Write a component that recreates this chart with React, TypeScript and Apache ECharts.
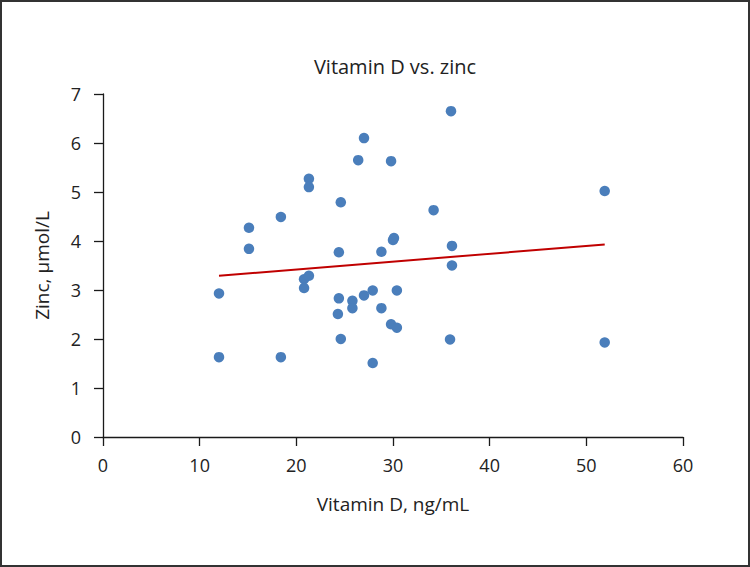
import React, { useEffect, useRef } from "react";
import * as echarts from "echarts";

const vitaminD = [
  36.0, 27.0, 26.4, 29.8, 21.3, 21.3, 24.6, 18.4, 15.1, 34.2, 15.1, 24.4, 28.8, 30.0, 30.1, 36.1, 36.1, 51.9,
  12.0, 20.8, 21.3, 20.8, 24.4, 25.8, 25.8, 27.0, 27.9, 30.4, 24.3, 28.8, 29.8, 30.4, 24.6, 35.9, 51.9, 12.0, 18.4, 27.9,
];
const zinc = [
  6.65, 6.10, 5.65, 5.63, 5.27, 5.10, 4.79, 4.49, 4.27, 4.63, 3.84, 3.77, 3.78, 4.02, 4.06, 3.90, 3.50, 5.02,
  2.93, 3.22, 3.29, 3.04, 2.83, 2.78, 2.63, 2.89, 2.99, 2.99, 2.51, 2.63, 2.30, 2.23, 2.00, 1.99, 1.93, 1.63, 1.63, 1.51,
];
const trendX = [12.0, 51.9];
const trendY = [3.29, 3.93];

const FONT = "'Open Sans', 'Noto Sans', sans-serif";

export default function App() {
  const ref = useRef<HTMLDivElement>(null);
  useEffect(() => {
    if (!ref.current) return;
    const chart = echarts.init(ref.current, null, { renderer: "svg" });
    const axisCommon = {
      axisLine: { show: true, onZero: false, lineStyle: { color: "#1a1a1a", width: 1.3 } },
      axisTick: { show: true, inside: false, length: 9, lineStyle: { color: "#1a1a1a", width: 1.3 } },
      splitLine: { show: false },
      nameTextStyle: { color: "#222", fontSize: 19, fontFamily: FONT },
    };
    chart.setOption({
      animation: false,
      backgroundColor: "transparent",
      title: {
        text: "Vitamin D vs. zinc",
        left: 390,
        textAlign: "center",
        top: 51,
        textStyle: { color: "#222", fontSize: 20, fontWeight: "normal", fontFamily: FONT },
      },
      grid: { left: 103, right: 67, top: 94, bottom: 130, containLabel: false },
      xAxis: {
        type: "value",
        min: 0,
        max: 60,
        interval: 10,
        name: "Vitamin D, ng/mL",
        nameLocation: "middle",
        nameGap: 57,
        ...axisCommon,
        axisLabel: { color: "#222", fontSize: 18, fontFamily: FONT, margin: 19 },
      },
      yAxis: {
        type: "value",
        min: 0,
        max: 7,
        interval: 1,
        name: "Zinc, µmol/L",
        nameLocation: "middle",
        nameGap: 52,
        ...axisCommon,
        axisLabel: { color: "#222", fontSize: 18, fontFamily: FONT, margin: 22 },
      },
      series: [
        {
          type: "line",
          data: trendX.map((x, i) => [x, trendY[i]]),
          symbol: "none",
          lineStyle: { color: "#c00000", width: 2 },
          z: 2,
        },
        {
          type: "scatter",
          data: vitaminD.map((x, i) => [x, zinc[i]]),
          symbolSize: 10.5,
          itemStyle: { color: "#4a7ebb", opacity: 1 },
          z: 3,
        },
      ],
    });
    return () => chart.dispose();
  }, []);
  return (
    <div
      style={{
        position: "absolute",
        left: 0,
        top: 0,
        width: 750,
        height: 567,
        boxSizing: "border-box",
        border: "2px solid #333",
        background: "#fff",
      }}
    >
      <div ref={ref} style={{ position: "absolute", left: -2, top: -2, width: 750, height: 567 }} />
    </div>
  );
}
